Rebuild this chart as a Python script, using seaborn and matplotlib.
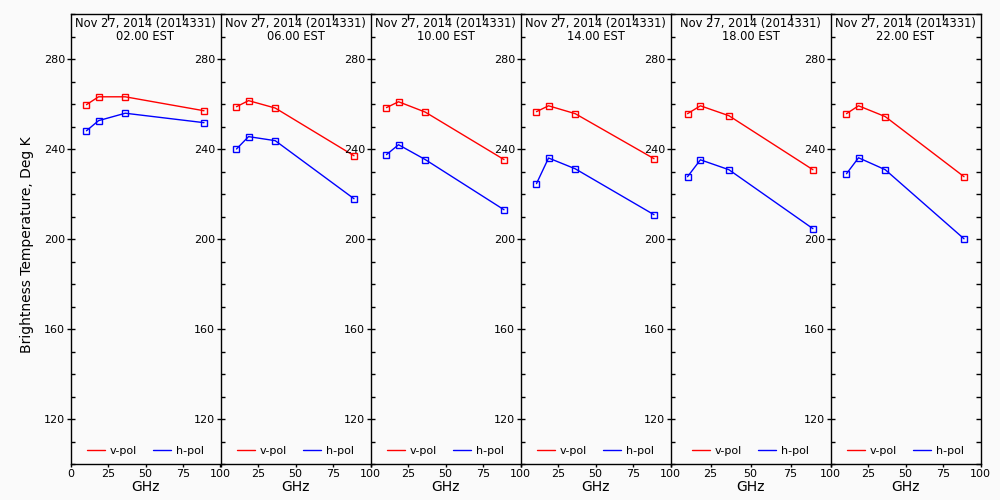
import matplotlib
matplotlib.use("Agg")
import matplotlib.pyplot as plt
import seaborn as sns
import pandas as pd
from matplotlib.ticker import MultipleLocator

# channel frequencies (GHz)
freqs = [10.65, 18.7, 36.5, 89.0]

hours = ["02.00 EST", "06.00 EST", "10.00 EST", "14.00 EST", "18.00 EST", "22.00 EST"]
date_label = "Nov 27, 2014 (2014331)"

# brightness temperatures, Deg K, one list per panel
v_pol = [
    [259.7, 263.2, 263.2, 257.0],
    [258.8, 261.5, 258.2, 237.0],
    [258.4, 261.0, 256.4, 235.3],
    [256.6, 259.2, 255.7, 235.7],
    [255.7, 259.2, 254.8, 230.8],
    [255.7, 259.2, 254.4, 227.7],
]
h_pol = [
    [248.1, 252.6, 255.9, 251.7],
    [240.0, 245.5, 243.7, 217.9],
    [237.5, 241.9, 235.3, 213.0],
    [224.6, 236.0, 231.2, 210.8],
    [227.7, 235.2, 230.8, 204.6],
    [229.0, 236.1, 230.8, 200.1],
]

sns.set_style("ticks")
plt.rcParams["font.family"] = ["DejaVu Sans"]
plt.rcParams.update({"text.color": "black", "axes.labelcolor": "black",
                     "xtick.color": "black", "ytick.color": "black"})
bg = "#fafafa"

fig = plt.figure(figsize=(10, 5), dpi=100, facecolor=bg)

# panel widths in pixels (the fifth one is a bit wider in the original)
widths = [150, 150, 150, 150, 160, 150]
left = 70.5
bottom, top = 464, 14

for i, hour in enumerate(hours):
    ax = fig.add_axes([left / 1000, 1 - bottom / 500, widths[i] / 1000, (bottom - top) / 500])
    left += widths[i]
    ax.set_facecolor(bg)

    df = pd.DataFrame({
        "GHz": freqs * 2,
        "Tb": v_pol[i] + h_pol[i],
        "pol": ["v-pol"] * 4 + ["h-pol"] * 4,
    })
    sns.lineplot(data=df, x="GHz", y="Tb", hue="pol", style="pol",
                 palette={"v-pol": "#ff0000", "h-pol": "#0000ff"},
                 markers={"v-pol": "s", "h-pol": "s"}, dashes=False,
                 markersize=4, markeredgewidth=1, linewidth=1, ax=ax)
    for ln in ax.get_lines():
        ln.set_markerfacecolor("none")
        ln.set_markeredgecolor(ln.get_color())

    ax.set_xlim(0, 100)
    ax.set_ylim(100, 300)
    for s in ax.spines.values():
        s.set_color("black")
        s.set_linewidth(1)
        s.set_visible(True)
    if i < len(hours) - 1:
        ax.spines["right"].set_visible(False)

    ax.set_xticks([0, 25, 50, 75, 100])
    ax.set_xticklabels(["0" if i == 0 else "", "25", "50", "75", "100"])
    ax.tick_params(axis="x", direction="out", length=2.5, width=1, pad=1, labelsize=8)
    ax.set_yticks([120, 160, 200, 240, 280])
    ax.yaxis.set_minor_locator(MultipleLocator(10))
    ax.tick_params(axis="y", which="major", direction="inout", length=6, width=1,
                   pad=1, labelsize=8)
    ax.tick_params(axis="y", which="minor", direction="in", length=3, width=1)

    top_ax = ax.secondary_xaxis("top")
    top_ax.set_xticks([25, 50, 75])
    top_ax.tick_params(direction="in", length=4.5, width=1, labeltop=False)
    top_ax.spines["top"].set_visible(False)

    if i == len(hours) - 1:
        right_ax = ax.secondary_yaxis("right")
        right_ax.set_yticks([120, 160, 200, 240, 280])
        right_ax.yaxis.set_minor_locator(MultipleLocator(10))
        right_ax.tick_params(which="both", direction="in", length=3.5, width=1, labelright=False)
        right_ax.spines["right"].set_visible(False)

    ax.set_xlabel("GHz", fontsize=10, labelpad=1)
    if i == 0:
        ax.set_ylabel("Brightness Temperature, Deg K", fontsize=10)
        ax.yaxis.set_label_coords(-0.24, 0.487)
    else:
        ax.set_ylabel("")

    ax.text(0.5, 0.994, date_label + "\n" + hour, transform=ax.transAxes,
            ha="center", va="top", fontsize=8.3, linespacing=1.0)

    ax.legend(loc="lower center", ncol=2, frameon=False, fontsize=8,
              handlelength=1.6, handletextpad=0.4, columnspacing=1.5,
              borderaxespad=0.3)
    for h in ax.get_legend().legend_handles:
        h.set_marker("")

fig.savefig("out.png", dpi=100, facecolor=bg)
